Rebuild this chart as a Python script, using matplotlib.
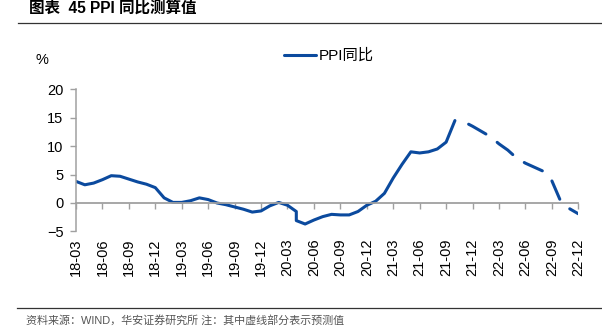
import matplotlib
matplotlib.use('Agg')
import matplotlib.pyplot as plt
from matplotlib.lines import Line2D

plt.rcParams['font.family'] = ['Liberation Sans', 'Noto Sans CJK SC', 'DejaVu Sans']

# month labels on the category axis (one tick every 3 months)
tick_labels = ['18-03', '18-06', '18-09', '18-12', '19-03', '19-06', '19-09', '19-12',
               '20-03', '20-06', '20-09', '20-12', '21-03', '21-06', '21-09', '21-12',
               '22-03', '22-06', '22-09', '22-12']
tick_pos = [3 * i for i in range(len(tick_labels))]

# actual (solid) part, month index from 18-03; 20-03 has a double entry (vertical drop)
solid_pos = list(range(0, 26)) + [25] + list(range(26, 44))
solid_val = [3.8, 3.2, 3.5, 4.1, 4.8, 4.7, 4.2, 3.7, 3.3, 2.7, 0.9, 0.1, 0.1, 0.4,
             0.9, 0.6, 0.0, -0.3, -0.7, -1.1, -1.6, -1.4, -0.5, 0.1, -0.4, -1.5,
             -3.1,
             -3.7, -3.0, -2.4, -2.0, -2.1, -2.1, -1.5, -0.4, 0.3, 1.7, 4.4, 6.8,
             9.0, 8.8, 9.0, 9.5, 10.7, 14.5]

# forecast (dashed) part
fc_pos = list(range(44, 58))
fc_val = [14.3, 13.5, 12.6, 11.7, 10.4, 9.3, 7.9, 7.0, 6.3, 5.6, 3.9, 0.3, -1.0, -1.9]

blue = '#0b4a9e'
gray = '#a0a0a0'

W, H = 602, 326
fig = plt.figure(figsize=(W / 100, H / 100), dpi=100)
ax = fig.add_axes([76 / W, 1 - 231.4 / H, (578.3 - 76) / W, (231.4 - 89.3) / H])

ax.plot(solid_pos, solid_val, color=blue, lw=2.2, solid_capstyle='round',
        solid_joinstyle='round', label='PPI同比')
ax.plot(fc_pos, fc_val, color=blue, lw=2.2, linestyle=(9.3, (6.5, 4.6)),
        dash_capstyle='round', dash_joinstyle='round')

ax.set_xlim(0, 57)
ax.set_ylim(-5, 20)
ax.set_yticks([-5, 0, 5, 10, 15, 20])

for s in ['top', 'right']:
    ax.spines[s].set_visible(False)
ax.spines['left'].set_color(gray)
ax.spines['left'].set_linewidth(1.1)
ax.spines['bottom'].set_position(('data', 0))
ax.spines['bottom'].set_color(gray)
ax.spines['bottom'].set_linewidth(1.3)

ax.set_xticks(tick_pos)
ax.tick_params(axis='x', direction='out', length=4, width=1, color=gray, labelbottom=False)
ax.tick_params(axis='y', direction='out', length=4, width=1, color=gray,
               labelsize=10.5, pad=5)

sec = ax.secondary_xaxis('bottom')
sec.set_xticks(tick_pos, tick_labels, rotation=90)
sec.tick_params(length=0, labelsize=10.5, pad=5)
sec.spines['bottom'].set_visible(False)

fig.text(29 / W, 1 - 9.5 / H, '图表  45 PPI 同比测算值', fontsize=11.2, fontweight='bold',
         ha='left', va='center')
fig.add_artist(Line2D([18 / W, 1], [1 - 23.3 / H] * 2, color='#333333', lw=0.9))
fig.add_artist(Line2D([16.7 / W, 1], [1 - 308.3 / H] * 2, color='#333333', lw=0.9))
fig.text(26 / W, 1 - 320 / H, '资料来源：WIND，华安证券研究所 注：其中虚线部分表示预测值',
         fontsize=7.95, color='#555555', ha='left', va='center')

fig.text(42 / W, 1 - 60 / H, '%', fontsize=10.5, ha='center', va='center')

fig.legend(loc='center left', bbox_to_anchor=(284 / W, 1 - 56 / H), frameon=False,
           fontsize=11, handlelength=2.1, handletextpad=0.2, borderpad=0,
           borderaxespad=0)

fig.savefig('out.png', dpi=100)
